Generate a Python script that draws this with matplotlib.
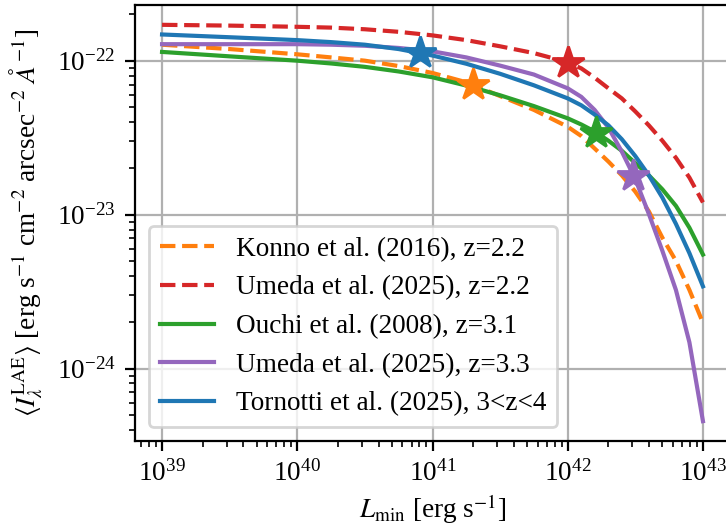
import matplotlib
matplotlib.use("Agg")
import matplotlib.pyplot as plt

plt.rcParams["font.family"] = "serif"
plt.rcParams["font.serif"] = ["Liberation Serif", "DejaVu Serif"]
plt.rcParams["mathtext.fontset"] = "stix"
plt.rcParams["font.size"] = 9.8

# L_min grid [erg/s]
L_min = [1e39, 3.16e39, 1e40, 1.78e40, 3.16e40, 5.62e40, 1e41, 1.78e41, 3.16e41, 5.62e41, 1e42,
         1.26e42, 1.58e42, 2.0e42, 2.51e42, 3.16e42, 3.98e42, 5.01e42, 6.31e42, 7.94e42, 1e43]

# <I_lambda^LAE>
konno_z22 = [1.27e-22, 1.19e-22, 1.10e-22, 1.05e-22, 1.0e-22, 9.23e-23, 8.32e-23, 7.24e-23,
             5.89e-23, 4.79e-23, 3.72e-23, 3.24e-23, 2.69e-23, 2.21e-23, 1.80e-23, 1.41e-23,
             1.05e-23, 7.08e-24, 5.01e-24, 3.24e-24, 1.98e-24]
umeda_z22 = [1.71e-22, 1.69e-22, 1.66e-22, 1.64e-22, 1.60e-22, 1.54e-22, 1.46e-22, 1.36e-22,
             1.24e-22, 1.12e-22, 9.77e-23, 8.91e-23, 7.76e-23, 6.61e-23, 5.69e-23, 4.68e-23,
             3.80e-23, 3.02e-23, 2.34e-23, 1.74e-23, 1.20e-23]
ouchi_z31 = [1.14e-22, 1.067e-22, 1.0e-22, 9.59e-23, 9.12e-23, 8.51e-23, 7.80e-23, 6.89e-23,
             5.96e-23, 5.07e-23, 4.22e-23, 3.85e-23, 3.47e-23, 3.02e-23, 2.60e-23, 2.16e-23,
             1.80e-23, 1.46e-23, 1.14e-23, 8.22e-24, 5.5e-24]
umeda_z33 = [1.28e-22, 1.28e-22, 1.28e-22, 1.27e-22, 1.25e-22, 1.21e-22, 1.15e-22, 1.05e-22,
             9.29e-23, 8.13e-23, 6.61e-23, 5.82e-23, 4.79e-23, 3.67e-23, 2.57e-23, 1.70e-23,
             1.01e-23, 5.82e-24, 3.24e-24, 1.48e-24, 4.55e-25]
tornotti = [1.48e-22, 1.42e-22, 1.36e-22, 1.32e-22, 1.27e-22, 1.19e-22, 1.08e-22, 9.55e-23,
            8.22e-23, 6.92e-23, 5.69e-23, 5.13e-23, 4.47e-23, 3.80e-23, 3.09e-23, 2.40e-23,
            1.80e-23, 1.29e-23, 8.71e-24, 5.62e-24, 3.42e-24]

# star markers (L, I), same order as the series
star_L = [2.0e41, 1.0e42, 1.62e42, 3.05e42, 8.1e40]
star_I = [6.95e-23, 9.65e-23, 3.4e-23, 1.77e-23, 1.12e-22]

labels = ["Konno et al. (2016), z=2.2", "Umeda et al. (2025), z=2.2",
          "Ouchi et al. (2008), z=3.1", "Umeda et al. (2025), z=3.3",
          "Tornotti et al. (2025), 3<z<4"]
series = [konno_z22, umeda_z22, ouchi_z31, umeda_z33, tornotti]
colors = ["C1", "C3", "C2", "C4", "C0"]
styles = ["--", "--", "-", "-", "-"]

fig = plt.figure(figsize=(3.63, 2.635), dpi=200)
ax = fig.add_axes([135 / 726, 86 / 527, 595 / 726, 436 / 527])

for ys, c, ls, lab, sl, si in zip(series, colors, styles, labels, star_L, star_I):
    ax.plot(L_min, ys, ls, color=c, lw=1.5, label=lab)
    ax.plot([sl], [si], "*", color=c, ms=12, zorder=5)

ax.set_xscale("log")
ax.set_yscale("log")
ax.grid(True, which="major", color="#b0b0b0", lw=0.8)
ax.set_xlabel(r"$L_{\rm min}$ [erg s$^{-1}$]", labelpad=2)
ax.set_ylabel(r"$\langle I_\lambda^{\rm LAE}\rangle$ [erg s$^{-1}$ cm$^{-2}$ arcsec$^{-2}$ $\AA^{-1}$]")
ax.legend(loc="lower left")

fig.savefig("out.png", dpi=200)
